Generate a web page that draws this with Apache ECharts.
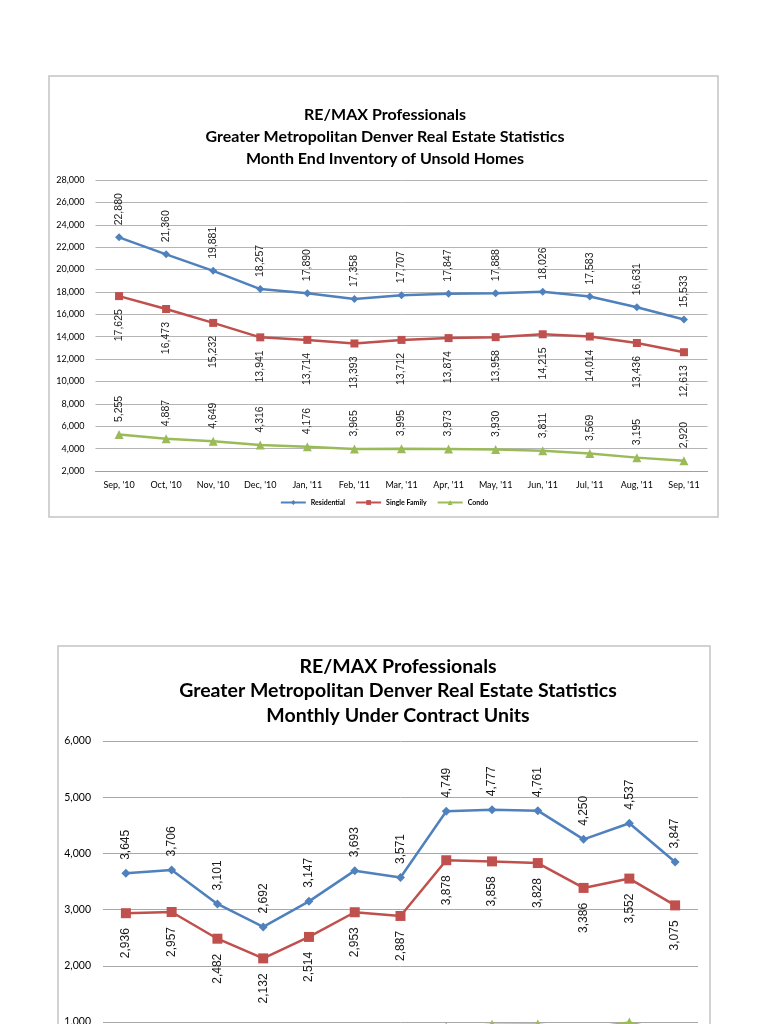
<!DOCTYPE html>
<html>
<head>
<meta charset="utf-8">
<script src="https://cdn.jsdelivr.net/npm/echarts@6/dist/echarts.min.js"></script>
<style>
html,body{margin:0;padding:0;background:#fff;overflow:hidden;}
#c{width:768px;height:1200px;}
</style>
</head>
<body>
<div id="c"></div>
<script>
const months = ["Sep, '10","Oct, '10","Nov, '10","Dec, '10","Jan, '11","Feb, '11","Mar, '11","Apr, '11","May, '11","Jun, '11","Jul, '11","Aug, '11","Sep, '11"];

// Chart 1: Month End Inventory of Unsold Homes
const invResidential = [22880,21360,19881,18257,17890,17358,17707,17847,17888,18026,17583,16631,15533];
const invSingleFamily = [17625,16473,15232,13941,13714,13393,13712,13874,13958,14215,14014,13436,12613];
const invCondo = [5255,4887,4649,4316,4176,3965,3995,3973,3930,3811,3569,3195,2920];

// Chart 2: Monthly Under Contract Units
const ucResidential = [3645,3706,3101,2692,3147,3693,3571,4749,4777,4761,4250,4537,3847];
const ucSingleFamily = [2936,2957,2482,2132,2514,2953,2887,3878,3858,3828,3386,3552,3075];
const ucCondo = [779,769,641,560,633,742,705,905,951,955,880,990,799];

const title1 = ["RE/MAX Professionals","Greater Metropolitan Denver Real Estate Statistics","Month End Inventory of Unsold Homes"];
const title2 = ["RE/MAX Professionals","Greater Metropolitan Denver Real Estate Statistics","Monthly Under Contract Units"];

const BLUE = '#4F81BD', RED = '#C0504D', GREEN = '#9BBB59';
const FONT = 'Lato, "Open Sans", sans-serif';
const fmt = p => Number(p.value).toLocaleString('en-US');

function lbl(pos, size, dist) {
  return {
    show: true, position: pos, rotate: 90,
    align: pos === 'top' ? 'left' : 'right', verticalAlign: 'middle',
    distance: dist, fontSize: size, color: '#1a1a1a', fontFamily: 'Liberation Sans, Arial, sans-serif',
    formatter: fmt
  };
}

function ser(name, data, color, symbol, size, xi, pos, fs, dist) {
  return {
    name, type: 'line', data, xAxisIndex: xi, yAxisIndex: xi,
    symbol, symbolSize: size, color,
    lineStyle: {width: 2.5, color},
    itemStyle: {color},
    label: lbl(pos, fs, dist),
    animation: false
  };
}

const chart = echarts.init(document.getElementById('c'), null, {renderer: 'canvas'});
chart.setOption({
  backgroundColor: '#fff',
  animation: false,
  title: [
    {text: title1.join('\n'), left: 380, top: 99, textAlign: 'center',
     textStyle: {fontFamily: FONT, fontWeight: 'bold', fontSize: 16, lineHeight: 22, color: '#000'}},
    {text: title2.join('\n'), left: 393, top: 649, textAlign: 'center',
     textStyle: {fontFamily: FONT, fontWeight: 'bold', fontSize: 19.5, lineHeight: 24.5, color: '#000'}}
  ],
  graphic: [
    {type: 'rect', shape: {x: 49, y: 76, width: 669, height: 441}, style: {fill: 'none', stroke: '#c4c4c4', lineWidth: 1.5}, z: -1},
    {type: 'rect', shape: {x: 58, y: 646, width: 652, height: 500}, style: {fill: 'none', stroke: '#c4c4c4', lineWidth: 1.5}, z: -1}
  ],
  legend: [
    {data: ['Residential','Single Family','Condo'], left: 'center', top: 494, itemWidth: 25, itemHeight: 6, itemGap: 10,
     textStyle: {fontSize: 7, fontFamily: FONT, fontWeight: 'bold', color: '#000'}, selectedMode: false},
  ],
  grid: [
    {left: 95.5, width: 612, top: 180, height: 291},
    {left: 103, width: 595, top: 741, height: 337.2}
  ],
  xAxis: [
    {type: 'category', data: months, gridIndex: 0, boundaryGap: true,
     axisLine: {lineStyle: {color: '#a0a0a0'}}, axisTick: {show: false},
     axisLabel: {fontSize: 9, fontFamily: FONT, color: '#000', margin: 10, interval: 0}},
    {type: 'category', data: months, gridIndex: 1, boundaryGap: true,
     axisLine: {lineStyle: {color: '#a0a0a0'}}, axisTick: {show: false},
     axisLabel: {fontSize: 10, fontFamily: FONT, color: '#000', margin: 10, interval: 0}}
  ],
  yAxis: [
    {type: 'value', gridIndex: 0, min: 2000, max: 28000, interval: 2000,
     axisLine: {show: false}, axisTick: {show: false},
     splitLine: {lineStyle: {color: '#b4b4b4', width: 1}},
     axisLabel: {fontSize: 9, fontFamily: FONT, color: '#000', margin: 11, formatter: v => v.toLocaleString('en-US')}},
    {type: 'value', gridIndex: 1, min: 0, max: 6000, interval: 1000,
     axisLine: {show: false}, axisTick: {show: false},
     splitLine: {lineStyle: {color: '#a8a8a8', width: 1}},
     axisLabel: {fontSize: 10.5, fontFamily: FONT, color: '#000', margin: 12, formatter: v => v.toLocaleString('en-US')}}
  ],
  series: [
    ser('Residential', invResidential, BLUE, 'diamond', 8, 0, 'top', 10.5, 8),
    ser('Single Family', invSingleFamily, RED, 'rect', 8, 0, 'bottom', 10.5, 9),
    ser('Condo', invCondo, GREEN, 'triangle', 9, 0, 'top', 10.5, 8),
    ser('Residential', ucResidential, BLUE, 'diamond', 9, 1, 'top', 12, 9),
    ser('Single Family', ucSingleFamily, RED, 'rect', 10, 1, 'bottom', 12, 10),
    ser('Condo', ucCondo, GREEN, 'triangle', 10, 1, 'bottom', 12, 10)
  ]
});
</script>
</body>
</html>
